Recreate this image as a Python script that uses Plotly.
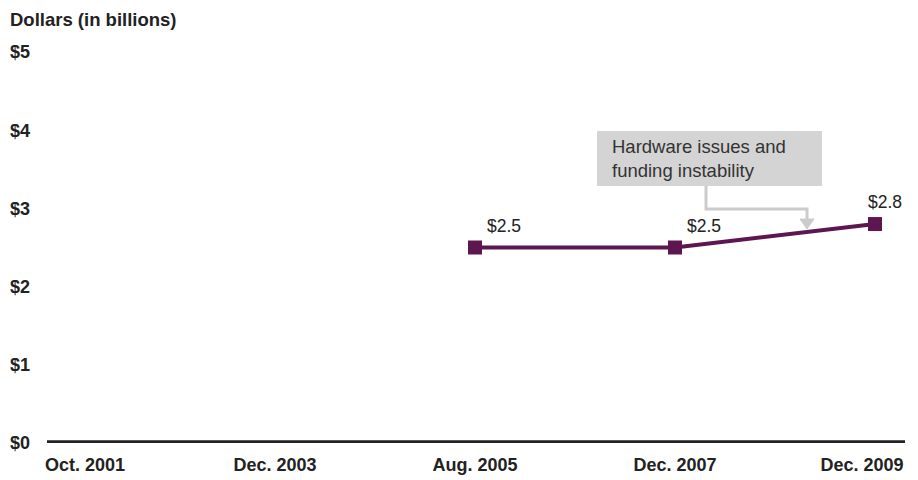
import plotly.graph_objects as go

# Data
categories = ["Oct. 2001", "Dec. 2003", "Aug. 2005", "Dec. 2007", "Dec. 2009"]
point_idx = [2, 3, 4]
values = [2.5, 2.5, 2.8]
value_labels = ["$2.5", "$2.5", "$2.8"]
y_ticks = [0, 1, 2, 3, 4, 5]
y_tick_labels = ["$0", "$1", "$2", "$3", "$4", "$5"]
callout_text = "Hardware issues and<br>funding instability"

LINE = "#5e1650"
GRAY = "#cbcbcb"
FONT = "Liberation Sans, Arial, Helvetica, sans-serif"
W, H = 902, 472
ML, MR, MT, MB = 39, 5, 28, 37
PW, PH = W - ML - MR, H - MT - MB
YMAX = PH / 78.2

fig = go.Figure()
fig.add_trace(go.Scatter(
    x=point_idx, y=values, mode="lines+markers",
    line=dict(color=LINE, width=4),
    marker=dict(symbol="square", size=14, color=LINE),
    cliponaxis=False, hoverinfo="skip", showlegend=False,
))
for i, (xi, yi, lab) in enumerate(zip(point_idx, values, value_labels)):
    last = i == len(values) - 1
    fig.add_annotation(x=xi, y=yi, text=lab, showarrow=False,
                       xanchor="center" if last else "left", yanchor="middle",
                       xshift=10, yshift=22,
                       font=dict(family=FONT, size=17.5, color="#222"))

# callout box
fig.add_shape(type="rect", x0=2.61, x1=3.735, y0=3.286, y1=3.99,
              fillcolor="#d4d4d4", line=dict(width=0), layer="below")
fig.add_annotation(x=2.675, y=3.638, xref="x", yref="y", text=callout_text,
                   showarrow=False, xanchor="left", yanchor="middle", align="left",
                   font=dict(family=FONT, size=18.5, color="#333"))
# connector
fig.add_shape(type="path", path="M 3.155 3.286 L 3.155 2.992 L 3.66 2.992 L 3.66 2.864",
              line=dict(color=GRAY, width=3))
fig.add_shape(type="path", path="M 3.625 2.864 L 3.695 2.864 L 3.66 2.737 Z",
              fillcolor=GRAY, line=dict(color=GRAY, width=1))

fig.add_annotation(xref="paper", yref="paper", x=-ML / PW, y=1 + 16 / PH,
                   text="<b>Dollars (in billions)</b>",
                   showarrow=False, xanchor="left", yanchor="middle",
                   font=dict(family=FONT, size=18.5, color="#222"))

label_pos = [0.05, 1, 2, 3, 3.935]
fig.update_layout(
    width=W, height=H,
    margin=dict(l=ML, r=MR, t=MT, b=MB, autoexpand=False),
    paper_bgcolor="white", plot_bgcolor="white",
    font=dict(family=FONT, color="#222"),
    xaxis=dict(range=[-0.14, 4.15], tickvals=label_pos, ticktext=categories,
               showgrid=False, zeroline=False, showline=False, ticks="",
               tickfont=dict(family=FONT, size=18, color="#222", weight="bold"),
               ticklabelstandoff=9),
    yaxis=dict(range=[0, YMAX], tickvals=y_ticks, ticktext=y_tick_labels,
               showgrid=False, zeroline=False, showline=False, ticks="",
               tickfont=dict(family=FONT, size=18, color="#222", weight="bold"),
               ticklabelstandoff=16),
)
# baseline axis line
fig.add_shape(type="line", xref="paper", yref="y", x0=0, x1=1, y0=0, y1=0,
              line=dict(color="#222", width=5.5))

fig.write_html("out.html")
